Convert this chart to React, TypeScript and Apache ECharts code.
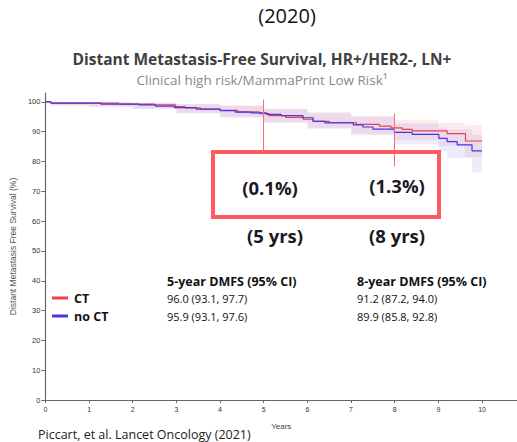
import React, { useEffect, useRef } from "react";
import * as echarts from "echarts";

// Kaplan-Meier step points [years, survival %]
const ctCurve: [number, number][] = [
  [0, 100], [0.13, 99.6], [1.68, 99.3], [2.5, 99.0], [2.98, 98.4], [3.2, 98.0],
  [3.55, 97.6], [4.0, 97.2], [4.4, 96.7], [4.9, 96.1], [5.12, 95.4], [5.5, 94.8],
  [5.9, 94.2], [6.13, 93.5], [6.5, 93.1], [7.12, 92.5], [7.65, 91.9], [7.91, 91.3],
  [8.17, 90.8], [8.4, 90.3], [9.2, 89.4], [9.62, 86.9], [10, 86.9],
];
const noCtCurve: [number, number][] = [
  [0, 100], [0.13, 99.6], [1.27, 99.3], [2.14, 99.0], [2.52, 98.6], [2.95, 98.1],
  [3.45, 97.6], [4.0, 97.1], [4.35, 96.6], [4.7, 96.3], [5.07, 95.8], [5.4, 95.4],
  [5.9, 94.7], [6.13, 93.5], [6.4, 93.0], [7.05, 92.3], [7.27, 91.6], [7.5, 90.9],
  [7.99, 89.8], [8.4, 89.1], [9.01, 87.8], [9.2, 86.7], [9.43, 85.6], [9.77, 83.6], [10, 83.6],
];

// 95% confidence bands
const ctCiTimes = [0, 0.13, 1, 2, 3, 4, 5, 6, 7, 8, 9, 9.6, 10];
const ctCiLower = [100, 98.8, 98.5, 97.8, 96.4, 95.0, 93.1, 91.3, 89.3, 87.2, 85.2, 81.5, 81.0];
const ctCiUpper = [100, 100, 99.9, 99.7, 99.3, 98.8, 97.7, 96.6, 95.4, 94.0, 93.0, 92.2, 92.0];
const noCtCiTimes = [0, 0.13, 1, 2, 3, 4, 5, 6, 7, 8, 9, 9.2, 9.77, 10];
const noCtCiLower = [100, 98.8, 98.4, 97.6, 96.1, 94.7, 93.1, 91.0, 88.8, 85.8, 83.5, 81.2, 76.3, 76.3];
const noCtCiUpper = [100, 100, 99.9, 99.7, 99.2, 98.7, 97.6, 96.2, 95.0, 92.8, 91.5, 90.8, 89.0, 89.0];

const xTicks = [0, 1, 2, 3, 4, 5, 6, 7, 8, 9, 10];
const yTicks = [0, 10, 20, 30, 40, 50, 60, 70, 80, 90, 100];
const refYears = [5, 8];
const refTop = [100.8, 96.1];
const refBottom = [83.3, 78.4];

const groups = ["CT", "no CT"];
const headers = ["5-year DMFS (95% CI)", "8-year DMFS (95% CI)"];
const rows5 = ["96.0 (93.1, 97.7)", "95.9 (93.1, 97.6)"];
const rows8 = ["91.2 (87.2, 94.0)", "89.9 (85.8, 92.8)"];
const diffs = ["(0.1%)", "(1.3%)"];
const diffYears = ["(5 yrs)", "(8 yrs)"];

const RED = "#ef3f48";
const BLUE = "#4436e6";
const FONT = "'Open Sans', 'Noto Sans', sans-serif";

export default function App() {
  const ref = useRef<HTMLDivElement>(null);
  useEffect(() => {
    if (!ref.current) return;
    const chart = echarts.init(ref.current, null, { renderer: "svg" });

    const band = (times: number[], lo: number[], hi: number[], color: string) => ({
      type: "custom",
      silent: true,
      z: 1,
      data: [[times[0], hi[0]]],
      renderItem: (_params: any, api: any) => {
        const pts: number[][] = [];
        for (let i = 0; i < times.length; i++) {
          if (i > 0) pts.push(api.coord([times[i], hi[i - 1]]));
          pts.push(api.coord([times[i], hi[i]]));
        }
        for (let i = times.length - 1; i >= 0; i--) {
          pts.push(api.coord([times[i], lo[i]]));
          if (i > 0) pts.push(api.coord([times[i], lo[i - 1]]));
        }
        return { type: "polygon", shape: { points: pts }, style: { fill: color } };
      },
    });

    const text = (x: number, y: number, t: string, size: number, weight: string, color: string, align = "left") => ({
      type: "text", x, y,
      style: { text: t, fontSize: size, fontWeight: weight, fill: color, fontFamily: FONT, align, verticalAlign: "middle" },
    });

    chart.setOption({
      animation: false,
      grid: { left: 44, right: 0, top: 93, bottom: 42, containLabel: false },
      xAxis: {
        type: "value", min: 0, max: 10.8,
        name: "Years", nameLocation: "middle", nameGap: 22,
        nameTextStyle: { fontSize: 8, color: "#444", fontFamily: "Liberation Sans" },
        axisLine: { lineStyle: { color: "#666", width: 1.2 } },
        axisTick: { show: true, length: 3, customValues: xTicks, lineStyle: { color: "#666" } },
        axisLabel: { customValues: xTicks, fontSize: 7, color: "#333", fontFamily: "Liberation Sans", margin: 6 },
        splitLine: { show: false },
      },
      yAxis: {
        type: "value", min: 0, max: 103,
        name: "Distant Metastasis Free Survival (%)", nameLocation: "middle", nameGap: 23, nameRotate: 90,
        nameTextStyle: { fontSize: 8.5, color: "#555", fontFamily: "Liberation Sans" },
        axisLine: { show: true, lineStyle: { color: "#666", width: 1.2 } },
        axisTick: { show: true, length: 4, customValues: yTicks, lineStyle: { color: "#666" } },
        axisLabel: { customValues: yTicks, fontSize: 7.5, color: "#333", fontFamily: "Liberation Sans", margin: 5 },
        splitLine: { show: false },
      },
      series: [
        band(ctCiTimes, ctCiLower, ctCiUpper, "rgba(240,90,100,0.12)"),
        band(noCtCiTimes, noCtCiLower, noCtCiUpper, "rgba(110,100,240,0.12)"),
        {
          name: "CT", type: "line", step: "end", symbol: "none", data: ctCurve,
          lineStyle: { color: RED, width: 1.2 }, z: 3,
          markLine: {
            symbol: "none", silent: true, label: { show: false },
            lineStyle: { color: "#ff6b6e", width: 1, type: "solid" },
            data: refYears.map((yr, i) => [{ coord: [yr, refTop[i]] }, { coord: [yr, refBottom[i]] }]),
          },
        },
        {
          name: "no CT", type: "line", step: "end", symbol: "none", data: noCtCurve,
          lineStyle: { color: BLUE, width: 1.2 }, z: 3,
        },
      ],
      graphic: [
        text(287, 15, "(2020)", 20, "normal", "#111", "center"),
        text(262, 59, "Distant Metastasis-Free Survival, HR+/HER2-, LN+", 15.5, "bold", "#404040", "center"),
        text(262, 80, "Clinical high risk/MammaPrint Low Risk¹", 13.5, "normal", "#888", "center"),
        {
          type: "rect", shape: { x: 213, y: 152, width: 226, height: 65 },
          style: { fill: "none", stroke: "#ff5a5f", lineWidth: 4 }, z: 10,
        },
        text(270, 187, diffs[0], 18.5, "bold", "#1a1a24", "center"),
        text(397, 185, diffs[1], 18.5, "bold", "#1a1a24", "center"),
        text(275, 235, diffYears[0], 18.5, "bold", "#1a1a24", "center"),
        text(397, 235, diffYears[1], 18.5, "bold", "#1a1a24", "center"),
        text(167, 281, headers[0], 12.5, "bold", "#111"),
        text(357, 281, headers[1], 12.5, "bold", "#111"),
        { type: "line", shape: { x1: 52, y1: 298, x2: 68, y2: 298 }, style: { stroke: RED, lineWidth: 3 } },
        { type: "line", shape: { x1: 52, y1: 316, x2: 68, y2: 316 }, style: { stroke: BLUE, lineWidth: 3 } },
        text(74, 298, groups[0], 12.5, "bold", "#111"),
        text(74, 316, groups[1], 12.5, "bold", "#111"),
        text(167, 298, rows5[0], 11, "normal", "#111"),
        text(167, 316, rows5[1], 11, "normal", "#111"),
        text(357, 298, rows8[0], 11, "normal", "#111"),
        text(357, 316, rows8[1], 11, "normal", "#111"),
        text(38, 434, "Piccart, et al. Lancet Oncology (2021)", 12.5, "normal", "#222"),
      ],
    });
    return () => chart.dispose();
  }, []);
  return (
    <div
      ref={ref}
      style={{ position: "fixed", left: 0, top: 0, width: 517, height: 442, background: "#fff" }}
    />
  );
}
